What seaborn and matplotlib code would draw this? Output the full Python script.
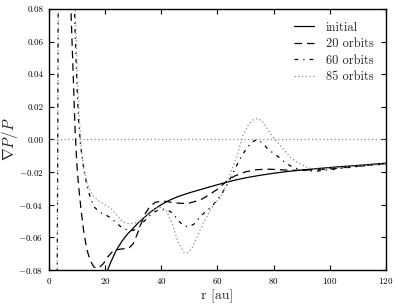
import numpy as np
import pandas as pd
import seaborn as sns
import matplotlib.pyplot as plt

# radial pressure gradient
r_init = [20.5, 22, 24, 26, 28, 30, 32, 34, 36, 38, 40, 43, 46, 50, 54, 58, 62,
          66, 70, 75, 80, 85, 90, 95, 100, 105, 110, 115, 120]
dp_init = [-0.082, -0.0755, -0.068, -0.0625, -0.058, -0.0545, -0.0508, -0.0478,
           -0.0448, -0.0422, -0.0400, -0.0372, -0.0350, -0.0327, -0.0307, -0.0287,
           -0.0268, -0.0250, -0.0235, -0.0220, -0.0207, -0.0196, -0.0187, -0.0179,
           -0.0172, -0.0165, -0.0159, -0.0152, -0.0145]

r_20 = [7.8, 8.3, 8.8, 9.4, 10.0, 10.6, 11.5, 12.5, 13.5, 14.7, 16, 17, 18, 19.5,
        21, 22.5, 24.5, 26.5, 28.3, 30, 31.5, 33, 34.5, 36, 38, 40, 42, 44, 46, 48,
        50, 54, 57, 60, 63, 66, 70, 74, 78, 82, 85, 88, 91, 94, 97, 100, 105, 110,
        115, 120]
dp_20 = [0.085, 0.06, 0.035, 0.005, -0.015, -0.028, -0.043, -0.057, -0.067, -0.074,
         -0.078, -0.079, -0.0785, -0.076, -0.072, -0.069, -0.0675, -0.067, -0.067,
         -0.064, -0.058, -0.051, -0.045, -0.041, -0.0385, -0.0378, -0.038, -0.0387,
         -0.039, -0.0392, -0.039, -0.037, -0.034, -0.0305, -0.026, -0.0225, -0.0198,
         -0.0185, -0.0182, -0.0185, -0.0188, -0.0189, -0.0188, -0.0186, -0.0184,
         -0.018, -0.0172, -0.0164, -0.0155, -0.0148]

r_60 = [3.0, 3.4, 9.0, 9.5, 10.0, 10.6, 11.3, 12.2, 13.2, 14.5, 16, 18, 20, 22, 24,
        26, 28, 30, 32, 34, 36, 38, 40, 42, 44, 46, 48, 50, 52, 54, 56, 58, 60, 62,
        64, 66, 68, 70, 72, 74, 76, 78, 80, 82, 84, 86, 88, 90, 93, 96, 100, 105,
        110, 115, 120]
dp_60 = [-0.1, 0.1, 0.09, 0.06, 0.035, 0.012, -0.003, -0.015, -0.025, -0.034, -0.041,
         -0.0445, -0.046, -0.048, -0.051, -0.054, -0.0555, -0.0558, -0.054, -0.050,
         -0.0465, -0.044, -0.043, -0.043, -0.045, -0.0495, -0.053, -0.0535, -0.0515,
         -0.047, -0.044, -0.041, -0.037, -0.032, -0.026, -0.019, -0.012, -0.0065,
         -0.002, 0.0, -0.002, -0.006, -0.0085, -0.011, -0.014, -0.0162, -0.0177,
         -0.0188, -0.0193, -0.0193, -0.0185, -0.0175, -0.0165, -0.0157, -0.0149]

r_85 = [3.0, 3.5, 9.3, 9.8, 10.3, 10.9, 11.5, 12.3, 13.3, 14.5, 16, 18, 20, 22, 24,
        26, 28, 30, 32, 34, 36, 38, 40, 42, 44, 46, 48, 49.5, 51, 53, 55, 57, 59,
        61, 63, 65, 67, 69, 71, 73, 74.5, 76, 78, 80, 82, 84, 86, 88, 90, 92, 94,
        97, 100, 105, 110, 115, 120]
dp_85 = [-0.1, 0.1, 0.09, 0.06, 0.035, 0.012, -0.003, -0.016, -0.025, -0.031, -0.035,
         -0.038, -0.040, -0.042, -0.046, -0.050, -0.0515, -0.0515, -0.0505, -0.048,
         -0.0445, -0.042, -0.0415, -0.044, -0.052, -0.063, -0.069, -0.0695, -0.0665,
         -0.059, -0.051, -0.045, -0.039, -0.036, -0.029, -0.019, -0.010, 0.002,
         0.009, 0.0125, 0.0128, 0.011, 0.006, 0.001, -0.003, -0.007, -0.011, -0.0135,
         -0.0155, -0.0172, -0.018, -0.0182, -0.0175, -0.017, -0.0162, -0.0155,
         -0.0148]

x_ticks = [0, 20, 40, 60, 80, 100, 120]
y_ticks = [-0.08, -0.06, -0.04, -0.02, 0.0, 0.02, 0.04, 0.06, 0.08]

sns.set_theme(style="ticks")
plt.rcParams['font.family'] = ['cmr10', 'DejaVu Serif']
plt.rcParams['mathtext.fontset'] = 'cm'
plt.rcParams['axes.formatter.use_mathtext'] = True

fig = plt.figure(figsize=(3.98, 3.05), dpi=100)
ax = fig.add_axes([0.1224, 0.1148, 0.8476, 0.8557])

series = [
    (r_init, dp_init, 'initial', 'black', '-'),
    (r_20, dp_20, '20 orbits', 'black', (0, (6, 4))),
    (r_60, dp_60, '60 orbits', 'black', (0, (3, 4, 1, 4))),
    (r_85, dp_85, '85 orbits', '0.55', (0, (1, 2))),
]
for r, dp, lab, col, ls in series:
    sns.lineplot(x=r, y=dp, ax=ax, color=col, linestyle=ls, linewidth=0.9,
                 label=lab, estimator=None, sort=False)

ax.axhline(0, color='0.55', linestyle=(0, (1, 2)), linewidth=0.9)

ax.set_xlim(0, 120)
ax.set_ylim(-0.08, 0.08)
ax.set_xticks(x_ticks)
ax.set_yticks(y_ticks)
ax.set_yticklabels(['%.2f' % v if v >= 0 else '$-$%.2f' % -v for v in y_ticks])
ax.tick_params(direction='in', length=3.5, width=0.8, labelsize=6.5,
               top=True, right=True, pad=4, colors='black')
for s in ax.spines.values():
    s.set_color('black')
    s.set_linewidth(1.0)

ax.set_xlabel('r [au]', fontsize=10, labelpad=3)
ax.set_ylabel(r'$\nabla P/P$', fontsize=11)
ax.yaxis.set_label_coords(-0.085, 0.5)

ax.legend(loc='upper right', frameon=False, fontsize=9, handlelength=1.6,
          handletextpad=0.9, labelspacing=0.35, borderaxespad=0.6)

fig.savefig('out.png', dpi=100)
